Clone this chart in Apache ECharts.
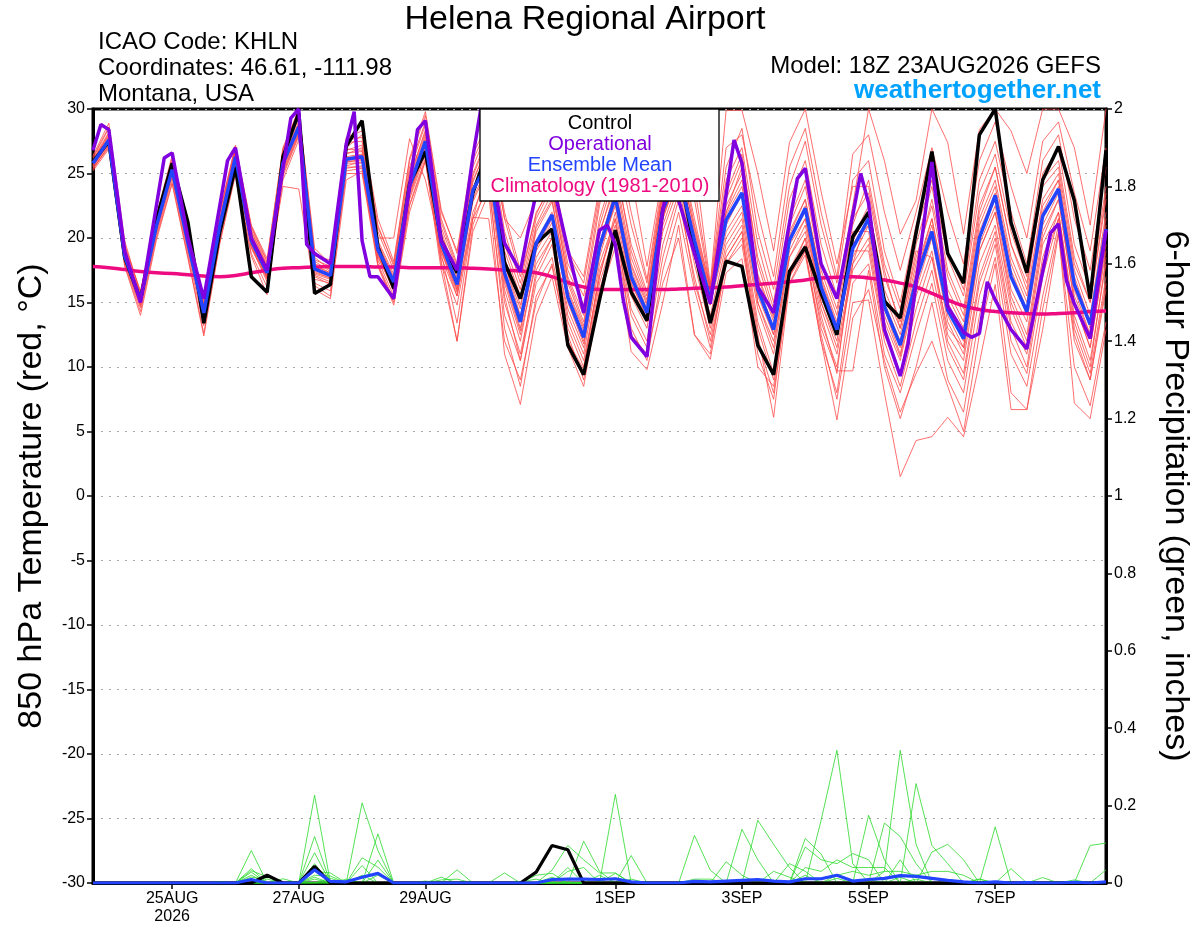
<!DOCTYPE html>
<html>
<head>
<meta charset="utf-8">
<title>Helena Regional Airport - GEFS 850 hPa Temperature</title>
<script src="https://cdn.jsdelivr.net/npm/echarts@6/dist/echarts.min.js"></script>
<style>
  html, body { margin: 0; padding: 0; background: #fff; }
  #chart { width: 1200px; height: 927px; }
</style>
</head>
<body>
<div id="chart"></div>
<script>
// ---------- DATA (6-hourly from 18Z 23AUG2026, index i -> hour 6*i) ----------
const xTickHours = [30, 78, 126, 198, 246, 294, 342];
const xTickLabels = ['25AUG\n2026', '27AUG', '29AUG', '1SEP', '3SEP', '5SEP', '7SEP'];

const tempControl = [25.9,27.5,18.5,15.2,21.4, 25.8,21.2,13.4,20.4, 25.5,17.0,15.8,26.3, 29.7,15.7,16.4,27.1, 29.1,19.3,16.1,24.2, 26.7,19.8,17.3,23.5, 27.0,18.1,15.3,19.6, 20.7,11.7,9.4,15.2, 20.6,15.8,13.6,22.2, 25.5,19.1,13.4,18.2, 17.8,11.7,9.4,17.4, 19.3,15.7,12.5,20.1, 22.0,15.1,13.8,20.4, 26.7,18.8,16.5,28.0, 30.0,21.2,17.3,24.5, 27.1,22.9,15.3,26.8];

const tempMean = [25.8,27.6,18.6,15.2,20.9, 25.3,19.6,14.2,20.9, 26.3,19.8,17.3,25.8, 28.6,17.6,17.1,26.1, 26.3,19.1,16.6,24.0, 27.5,19.6,16.4,23.7, 26.0,17.3,13.5,19.6, 21.8,15.4,12.3,19.3, 23.2,17.0,14.2,22.2, 25.0,19.8,15.2,21.4, 23.5,16.0,12.9,19.8, 22.3,16.2,12.9,19.2, 21.5,14.7,11.7,16.7, 20.5,14.4,12.2,20.0, 23.3,17.0,14.3,21.7, 23.8,16.4,13.3,20.7];

const tempClimatology = [17.8,17.7,17.55,17.4,17.3, 17.25,17.15,17.05,17.0, 17.1,17.3,17.5,17.65, 17.7,17.75,17.8,17.8, 17.8,17.75,17.75,17.7, 17.7,17.7,17.7,17.65, 17.6,17.5,17.45,17.3, 17.0,16.55,16.2,16.0, 16.0,16.0,16.0,16.0, 16.05,16.1,16.15,16.2, 16.3,16.4,16.5,16.6, 16.75,16.9,16.95,17.0, 16.9,16.75,16.5,16.2, 15.7,15.2,14.75,14.45, 14.3,14.2,14.15,14.1, 14.15,14.2,14.3,14.35];

// operational run, 3-hourly: [hour, value]
const tempOperational = [[0,26.8],[3,28.8],[6,28.4],[12,19.0],[18,15.0],[27,26.2],[30,26.6],[36,20.0],[42,15.3],[51,26.0],[54,27.0],[60,20.0],[66,17.5],[75,29.3],[78,30.0],[81,19.5],[84,18.8],[90,18.0],[96,27.3],[99,29.8],[102,19.8],[105,17.0],[108,17.0],[114,15.3],[123,28.4],[126,29.1],[132,19.8],[138,17.5],[144,26.3],[147,30.0],[156,19.6],[162,17.4],[165,20.6],[168,23.5],[174,24.5],[180,19.1],[186,14.2],[192,20.6],[195,21.0],[198,19.5],[201,15.2],[204,12.3],[210,10.8],[216,22.2],[219,25.0],[228,18.8],[234,14.9],[243,27.6],[246,25.8],[252,16.2],[258,14.2],[267,24.6],[270,25.4],[276,18.0],[282,15.3],[291,25.0],[294,22.7],[300,12.9],[306,9.3],[309,11.8],[318,25.9],[324,14.7],[330,12.7],[333,12.3],[336,12.6],[339,16.6],[342,15.2],[348,12.9],[354,11.4],[363,20.4],[366,21.1],[369,16.7],[372,14.9],[378,12.2],[384,20.6]];

const tempM01 = [26.2,28.5,19.5,15.8,21.5,26.0,20.5,14.8,21.8,27.0,20.5,17.8,26.5,29.5,18.5,17.5,27.0, 28.0,21.0,17.8,25.5,29.0,21.5,18.0,25.5,28.5,21.5,20.0,23.0,25.0,18.8,16.5,23.5, 27.0,21.0,16.5,24.0,28.0,23.0,16.0,25.5,28.5,20.5,16.0,24.0,27.5,21.0,16.5,24.5, 26.0,19.0,15.0,21.0,25.0,19.0,16.0,24.5,27.5,22.0,18.0,26.0,28.0,21.5,17.5,25.5];
const tempM02 = [25.4,27.0,18.0,14.6,20.2,24.6,18.8,13.2,20.0,25.6,19.2,16.8,25.0,28.0,16.8,16.5,25.5, 25.5,18.0,15.2,22.5,26.0,18.0,14.8,21.5,24.0,14.0,10.5,16.5,18.5,12.5,9.0,16.0, 20.0,13.0,10.5,17.5,22.0,16.0,11.5,18.0,19.5,12.0,8.0,16.5,19.0,12.5,7.5,15.0, 15.2,8.0,1.5,4.3,4.6,6.1,4.6,10.3,16.4,6.7,6.7,12.9,20.3,10.0,7.0,13.5];
const tempM03 = [25.9,27.8,18.9,15.4,21.2,25.6,19.9,14.5,21.3,26.6,20.1,17.6,26.2,29.0,17.9,17.3,26.5, 27.0,19.8,17.2,24.8,28.2,20.5,17.0,24.3,27.5,18.5,14.8,20.5,22.8,16.5,13.2,20.3, 24.5,18.0,15.0,23.0,26.5,20.5,15.8,22.5,25.0,17.0,13.5,20.5,23.0,17.0,13.5,20.0, 22.5,16.0,13.0,18.5,22.5,16.0,13.5,21.5,24.5,18.5,15.5,23.0,25.0,17.5,14.0,22.0];
const tempM04 = [25.6,27.3,18.3,14.9,20.6,25.0,19.3,13.8,20.5,26.0,19.5,17.0,25.4,28.3,17.2,16.8,25.8, 25.8,18.5,16.0,23.2,26.8,19.0,15.8,22.8,25.5,16.0,12.0,18.5,20.5,14.0,11.0,18.0, 21.5,15.5,13.0,21.0,24.5,18.5,14.0,19.5,21.5,14.5,11.0,18.5,20.5,14.5,11.0,17.5, 19.5,12.5,9.5,15.5,19.0,12.5,10.5,18.0,21.0,14.5,11.5,19.5,22.0,13.5,10.0,18.5];
const tempM05 = [26.4,28.9,19.8,15.6,21.0,25.8,20.2,14.9,21.5,26.8,20.9,18.2,26.8,29.8,18.8,17.9,27.4, 27.5,20.5,17.5,25.2,28.8,21.2,17.8,25.0,28.0,20.5,16.5,22.0,24.0,17.5,14.8,22.5, 29.5,24.9,17.8,25.0,28.5,26.0,16.4,29.9,29.9,25.0,19.0,27.4,30.0,23.6,18.0,24.0, 24.0,17.5,13.0,19.0,18.5,13.0,11.5,19.0,22.0,15.0,12.0,20.0,23.0,15.0,11.5,19.0];
const tempM06 = [25.3,27.2,17.9,14.3,20.0,24.3,18.5,12.6,19.6,25.1,18.8,16.2,24.5,27.6,16.5,15.9,25.0, 25.0,17.8,14.8,22.0,26.0,17.5,12.0,20.5,23.5,11.0,7.1,14.0,17.0,11.5,8.5,15.5, 19.3,11.2,9.8,15.0,21.0,12.5,10.6,17.3,18.4,10.0,8.5,17.0,19.5,13.5,10.0,18.0, 22.0,15.5,12.5,18.0,23.0,17.0,14.0,22.0,25.5,19.5,16.0,24.5,26.0,18.5,15.0,23.5];
const tempM07 = [26.0,28.1,19.2,15.5,21.6,26.2,20.8,15.2,22.0,27.2,21.0,18.4,27.0,29.9,19.2,18.0,27.6, 27.8,20.8,18.0,26.0,29.5,22.0,19.0,26.5,29.0,22.0,17.5,23.5,25.5,19.0,17.0,24.0, 26.0,19.0,15.5,23.5,27.0,21.5,16.0,24.5,27.0,19.5,15.0,23.0,26.0,19.5,15.5,22.5, 30.0,26.0,20.3,22.9,30.0,27.4,20.3,28.4,30.0,28.3,25.0,30.0,30.0,27.0,21.0,30.0];
const tempM08 = [25.5,27.4,18.4,15.0,20.7,25.1,19.4,14.0,20.7,25.9,19.4,16.9,24.0,23.8,16.0,15.3,24.5, 25.2,18.3,15.5,23.0,26.5,18.5,15.5,22.0,25.0,15.0,11.0,17.0,19.5,13.0,10.0,17.0, 22.0,16.0,13.5,20.5,24.0,18.0,13.0,19.0,21.0,13.5,9.5,17.5,20.0,13.0,9.7,9.7, 17.5,10.0,6.0,10.0,15.0,9.0,6.5,14.0,18.5,11.0,8.5,15.5,21.0,12.5,9.0,16.0];
const tempM09 = [25.7,27.5,18.7,15.3,21.0,25.4,19.7,14.4,21.0,26.4,19.9,17.4,25.9,28.8,17.7,17.2,26.3, 26.5,19.3,16.8,24.2,27.8,19.8,16.8,23.8,26.8,17.5,13.8,19.8,22.0,15.8,12.8,19.6, 23.5,17.5,14.5,22.5,25.5,20.0,15.5,21.8,24.0,16.5,13.0,20.0,22.5,16.5,13.0,19.5, 21.0,14.5,11.5,17.0,21.5,15.0,12.5,20.5,23.5,17.5,14.5,22.0,24.5,16.5,13.0,21.0];
const tempM10 = [26.1,28.2,19.0,15.1,20.8,25.5,19.8,14.1,20.8,26.2,19.7,17.1,25.6,28.5,18.3,17.8,26.8, 27.2,20.0,20.0,27.7,24.5,19.0,15.5,21.5,26.0,18.0,14.5,20.8,23.0,16.0,13.0,20.5, 24.0,16.5,13.8,21.5,25.0,19.0,14.8,22.0,25.5,15.0,11.5,19.0,21.5,15.0,12.0,20.5, 20.5,13.5,10.5,16.0,20.0,13.5,11.0,19.0,22.0,15.5,12.5,20.5,23.0,15.0,11.5,19.5];
const tempM11 = [25.9,27.9,18.8,15.7,21.3,25.9,20.3,14.6,21.4,26.9,20.6,17.9,26.4,29.3,18.2,17.4,26.9, 26.8,19.5,16.9,24.5,28.0,20.2,17.3,24.5,27.2,19.0,15.5,21.0,23.5,17.0,14.0,21.5, 25.5,19.5,15.8,23.8,27.0,21.0,16.2,23.0,26.0,18.5,14.5,21.5,24.5,18.0,14.5,21.5, 23.5,17.0,13.5,19.5,24.0,17.5,14.5,22.5,25.5,19.5,16.5,24.0,25.5,18.0,15.0,23.0];
const tempM12 = [25.4,27.1,18.2,14.7,20.4,24.8,19.1,13.6,20.3,25.7,19.3,16.6,25.1,28.1,17.0,16.4,25.4, 25.6,18.8,15.8,23.4,26.9,18.8,13.4,21.6,21.5,12.0,9.0,15.0,18.0,12.0,9.5,16.5, 20.5,14.0,11.5,18.5,23.0,17.0,12.0,18.0,20.0,12.5,6.1,16.4,18.7,12.0,5.9,13.8, 16.0,10.5,6.5,9.5,12.0,8.5,5.0,12.5,18.0,8.0,6.7,14.5,20.5,7.2,6.0,12.9];
const tempM13 = [25.8,27.7,18.6,15.2,20.9,25.2,19.5,14.3,20.9,26.3,20.0,17.5,25.7,28.7,17.5,17.0,26.0, 26.2,19.0,16.4,23.9,27.4,19.4,16.2,23.4,26.3,17.0,13.0,19.2,21.5,15.2,12.0,19.0, 22.5,16.5,14.0,21.5,25.0,19.5,15.0,20.5,22.5,15.5,12.5,19.5,21.5,15.5,12.5,18.5, 21.0,14.0,10.8,16.5,20.5,14.0,11.5,19.5,22.5,16.0,13.5,21.0,23.5,15.5,12.5,20.0];
const tempM14 = [26.3,28.6,19.4,15.9,21.7,26.4,20.7,15.0,21.9,27.1,20.8,18.1,26.9,30.0,18.6,18.3,27.8, 28.3,21.5,18.2,26.2,29.8,22.2,18.8,26.0,28.8,21.5,17.0,21.8,24.5,18.0,15.5,23.0, 28.0,22.0,16.8,24.5,27.5,24.0,16.2,27.0,28.0,22.0,17.0,25.5,28.5,22.0,17.0,26.5, 28.0,22.0,17.5,22.0,27.0,22.0,18.0,26.0,29.0,24.0,20.0,27.5,29.0,23.5,19.0,27.0];
const tempM15 = [25.2,26.9,17.8,14.0,19.8,24.2,18.4,12.4,19.5,24.9,18.6,15.6,24.8,27.9,16.3,15.5,25.2, 25.4,17.9,15.0,22.6,26.2,18.2,12.0,21.0,24.5,13.0,8.5,15.5,17.8,12.0,9.8,17.5, 21.0,14.5,12.0,19.5,23.5,16.5,12.5,18.5,20.5,13.0,9.0,17.0,19.0,12.0,8.0,16.5, 18.0,11.0,8.0,12.5,16.5,10.5,8.0,15.5,19.5,12.0,9.5,17.0,21.5,12.0,9.0,16.5];
const tempM16 = [25.6,27.5,18.5,15.0,20.8,25.3,19.6,14.2,20.7,26.1,19.6,17.2,25.5,28.4,17.4,16.9,25.9, 26.0,18.9,16.6,23.6,27.2,19.6,16.6,23.6,26.5,16.5,12.5,18.0,20.0,14.5,11.5,18.5, 22.8,16.2,13.5,21.8,24.8,19.0,14.8,20.0,22.0,15.0,12.0,18.5,21.0,15.0,11.5,18.0, 20.0,13.0,9.5,14.5,18.5,12.0,9.5,17.0,20.5,13.5,11.0,18.5,22.0,14.0,10.5,18.0];
const tempM17 = [26.0,28.0,19.1,15.3,21.1,25.7,20.0,14.7,21.2,26.7,20.3,17.7,26.1,28.9,18.0,17.6,26.6, 26.7,19.6,17.0,24.6,28.4,20.8,17.6,24.8,27.8,19.5,16.0,21.5,24.0,16.8,13.5,21.0, 25.0,18.5,15.2,23.5,26.0,20.8,15.8,23.5,26.5,18.0,14.0,21.0,24.0,17.5,14.0,21.0, 24.5,18.0,14.5,20.5,24.5,18.5,15.5,23.5,26.5,20.5,17.0,25.0,27.0,19.5,16.0,24.0];
const tempM18 = [25.5,27.3,18.2,14.8,20.5,24.9,19.2,13.9,20.4,25.8,19.4,16.9,25.3,28.2,17.1,16.6,25.6, 25.9,18.7,16.2,23.5,27.0,19.1,16.0,23.0,25.8,15.5,10.5,17.5,20.0,13.5,10.5,17.0, 21.5,12.5,11.0,16.5,20.0,12.5,11.0,18.5,20.5,11.0,7.5,17.0,20.0,14.0,9.5,19.0, 19.0,12.0,8.5,13.5,17.5,11.5,9.0,16.5,20.0,13.0,10.0,18.0,21.5,13.0,9.5,17.0];
const tempM19 = [25.9,27.6,18.7,15.4,21.0,25.4,19.9,14.4,21.1,26.5,20.2,17.6,25.9,28.6,17.8,17.3,26.2, 26.4,19.2,16.7,24.0,27.6,19.7,16.5,23.6,26.6,18.0,14.0,19.5,21.8,15.5,12.5,19.5, 23.8,17.8,14.8,22.8,25.8,20.2,15.6,22.0,24.5,17.2,13.8,20.2,23.0,16.8,13.2,19.8, 22.0,15.0,12.0,17.5,21.5,15.5,13.0,21.0,24.0,18.0,15.0,22.5,24.5,17.0,13.5,21.5];
const tempM20 = [25.7,27.4,18.5,15.1,20.7,25.1,19.4,14.1,20.6,26.0,19.6,17.0,25.5,28.4,17.3,16.9,25.9, 26.1,18.6,16.0,23.7,27.2,19.3,16.0,23.4,26.2,16.8,12.8,19.0,21.2,15.0,11.8,19.0, 23.0,17.0,14.2,22.0,25.0,19.5,15.2,21.0,23.5,16.0,12.5,19.8,22.0,16.0,12.8,19.5, 21.5,14.5,11.0,17.0,21.0,14.5,12.0,20.0,23.0,17.0,14.0,21.5,24.0,16.0,12.5,20.5];

// 6-hour precipitation (inches): [index, value]; all other 6-hour steps are 0
const precipControl = [[11,0.02],[14,0.043],[28,0.028],[29,0.097],[30,0.086]];
const precipMean = [[10,0.009],[14,0.034],[15,0.004],[16,0.003],[17,0.015],[18,0.025],[29,0.009],[30,0.01],[31,0.01],[32,0.009],[33,0.011],[34,0.003],[38,0.004],[39,0.003],[40,0.005],[41,0.007],[42,0.009],[43,0.005],[44,0.003],[45,0.011],[46,0.011],[47,0.02],[48,0.005],[49,0.009],[50,0.012],[51,0.019],[52,0.017],[53,0.012],[54,0.007],[55,0.003],[57,0.003],[59,0.001],[62,0.002],[64,0.003]];
const precipG01 = [[10,0.084],[14,0.227],[17,0.02],[30,0.04],[33,0.229],[46,0.162],[47,0.343],[48,0.05],[51,0.06],[57,0.145]];
const precipG02 = [[10,0.037],[14,0.12],[18,0.127],[31,0.108],[32,0.03],[38,0.123],[39,0.033],[50,0.03],[51,0.343],[52,0.1]];
const precipG03 = [[10,0.032],[11,0.016],[14,0.078],[17,0.207],[18,0.084],[29,0.033],[30,0.097],[31,0.06],[32,0.026],[33,0.026],[41,0.139],[42,0.06],[52,0.257],[53,0.097],[54,0.05]];
const precipG04 = [[10,0.028],[14,0.05],[18,0.059],[23,0.034],[34,0.071],[42,0.162],[43,0.1],[44,0.04],[49,0.175],[50,0.06]];
const precipG05 = [[10,0.02],[14,0.035],[17,0.065],[18,0.041],[22,0.015],[26,0.026],[45,0.115],[46,0.075],[50,0.155],[51,0.12],[52,0.05]];
const precipG06 = [[10,0.015],[11,0.01],[14,0.03],[15,0.026],[28,0.02],[29,0.025],[45,0.093],[46,0.06],[47,0.05],[48,0.076],[49,0.06],[63,0.097],[64,0.103]];
const precipG07 = [[12,0.011],[14,0.02],[15,0.018],[17,0.045],[30,0.03],[31,0.04],[43,0.03],[44,0.015],[53,0.08],[54,0.1],[55,0.06]];
const precipG08 = [[14,0.015],[16,0.01],[29,0.015],[33,0.025],[40,0.055],[41,0.02],[45,0.04],[46,0.03],[47,0.06],[48,0.04],[49,0.04],[50,0.04],[64,0.034]];
const precipG09 = [[11,0.02],[15,0.012],[18,0.02],[22,0.008],[23,0.01],[47,0.02],[48,0.03],[49,0.02],[50,0.03],[51,0.03],[52,0.02],[53,0.03],[54,0.03],[55,0.02]];
const precipG10 = [[8,0.004],[16,0.006],[21,0.005],[32,0.02],[34,0.01],[38,0.01],[39,0.01],[58,0.037],[60,0.014],[62,0.008]];
const precipG11 = [[14,0.01],[35,0.003],[44,0.05],[45,0.03],[61,0.003]];
const precipG12 = [[27,0.003],[28,0.01],[56,0.01]];
const precipG13 = [[47,0.012],[51,0.015],[56,0.01]];
const precipG14 = [[45,0.02],[49,0.01],[52,0.01]];

// ---------- BUILD ----------
const FONT = "'Liberation Sans', Arial, Helvetica, sans-serif";
const N = tempMean.length; // 65 steps
const toPairs = arr => arr.map((v, i) => [6 * i, v]);
const sparseToPairs = list => {
  const a = new Array(N).fill(0);
  list.forEach(([i, v]) => { a[i] = v; });
  return toPairs(a);
};

const tempMembers = [tempM01,tempM02,tempM03,tempM04,tempM05,tempM06,tempM07,tempM08,tempM09,tempM10,
                     tempM11,tempM12,tempM13,tempM14,tempM15,tempM16,tempM17,tempM18,tempM19,tempM20];
const precipMembers = [precipG01,precipG02,precipG03,precipG04,precipG05,precipG06,precipG07,
                       precipG08,precipG09,precipG10,precipG11,precipG12,precipG13,precipG14];

const series = [];
tempMembers.forEach((arr, k) => series.push({
  name: 'Member ' + (k + 1), type: 'line', yAxisIndex: 0, data: toPairs(arr),
  symbol: 'none', silent: true, lineStyle: { width: 0.8, color: '#ff4a4a' }
}));
precipMembers.forEach((list, k) => series.push({
  name: 'Precip member ' + (k + 1), type: 'line', yAxisIndex: 1, data: sparseToPairs(list),
  symbol: 'none', silent: true, lineStyle: { width: 0.8, color: '#2bd92b' }
}));
series.push({ name: 'Climatology (1981-2010)', type: 'line', yAxisIndex: 0, data: toPairs(tempClimatology),
  symbol: 'none', smooth: true, lineStyle: { width: 3.5, color: '#ee0a80' }, itemStyle: { color: '#ee0a80' } });
series.push({ name: 'Precip control', type: 'line', yAxisIndex: 1, data: sparseToPairs(precipControl),
  symbol: 'none', lineStyle: { width: 3.2, color: '#000' } });
series.push({ name: 'Precip mean', type: 'line', yAxisIndex: 1, data: sparseToPairs(precipMean),
  symbol: 'none', lineStyle: { width: 3.2, color: '#2244ff' } });
series.push({ name: 'Control', type: 'line', yAxisIndex: 0, data: toPairs(tempControl),
  symbol: 'none', lineStyle: { width: 3.5, color: '#000' }, itemStyle: { color: '#000' } });
series.push({ name: 'Ensemble Mean', type: 'line', yAxisIndex: 0, data: toPairs(tempMean),
  symbol: 'none', lineStyle: { width: 3.5, color: '#2244ff' }, itemStyle: { color: '#2244ff' } });
series.push({ name: 'Operational', type: 'line', yAxisIndex: 0, data: tempOperational,
  symbol: 'none', lineStyle: { width: 3.5, color: '#8000e0' }, itemStyle: { color: '#8000e0' } });

const legendKeys = { 'Control': 'c', 'Operational': 'o', 'Ensemble Mean': 'm', 'Climatology (1981-2010)': 'k' };
const legendTok = color => ({ color: color, width: 226, align: 'center', fontSize: 20, lineHeight: 21.5, fontFamily: FONT });

const option = {
  animation: false,
  backgroundColor: '#fff',
  textStyle: { fontFamily: FONT },
  title: [
    { text: 'Helena Regional Airport', left: 585, top: 3, textAlign: 'center', padding: 0,
      textStyle: { fontSize: 34, fontWeight: 'normal', color: '#000', fontFamily: FONT } },
    { text: 'ICAO Code: KHLN\nCoordinates: 46.61, -111.98\nMontana, USA', left: 98, top: 29, padding: 0,
      textStyle: { fontSize: 24, lineHeight: 26, fontWeight: 'normal', color: '#000', fontFamily: FONT } },
    { text: 'Model: 18Z 23AUG2026 GEFS', right: 99, top: 53, padding: 0,
      textStyle: { fontSize: 24, lineHeight: 26, fontWeight: 'normal', color: '#000', fontFamily: FONT } },
    { text: 'weathertogether.net', right: 99, top: 78, padding: 0,
      textStyle: { fontSize: 26, lineHeight: 26, fontWeight: 'bold', color: '#00a2ff', fontFamily: FONT } }
  ],
  legend: {
    orient: 'vertical', left: 480, top: 109,
    icon: 'none', itemWidth: 0, itemHeight: 10, itemGap: 1,
    padding: [4, 6, 5, 2],
    backgroundColor: '#fff', borderColor: '#000', borderWidth: 1.3,
    selectedMode: false,
    data: ['Control', 'Operational', 'Ensemble Mean', 'Climatology (1981-2010)'],
    formatter: name => '{' + legendKeys[name] + '|' + name + '}',
    textStyle: { rich: {
      c: legendTok('#000'), o: legendTok('#8000e0'), m: legendTok('#2244ff'), k: legendTok('#ee0a80')
    } }
  },
  grid: { left: 93, right: 92, top: 109, bottom: 44, show: true, borderColor: '#000', borderWidth: 3, backgroundColor: 'transparent' },
  xAxis: {
    type: 'value', min: 0, max: 384,
    axisLine: { show: true, onZero: false, lineStyle: { color: '#000', width: 3 } },
    axisTick: { show: true, customValues: xTickHours, length: 6, lineStyle: { color: '#000', width: 1.5 } },
    axisLabel: { show: true, customValues: xTickHours, color: '#000', fontSize: 16, lineHeight: 18, margin: 7,
      fontFamily: FONT, formatter: v => xTickLabels[xTickHours.indexOf(v)] || '' },
    splitLine: { show: false }
  },
  yAxis: [
    { type: 'value', min: -30, max: 30, interval: 5, position: 'left',
      name: '850 hPa Temperature (red, \u00B0C)', nameLocation: 'middle', nameGap: 44,
      nameTextStyle: { fontSize: 34, color: '#000', fontFamily: FONT },
      axisLine: { show: true, onZero: false, lineStyle: { color: '#000', width: 3 } },
      axisTick: { show: true, length: 6, lineStyle: { color: '#000', width: 1.5 } },
      axisLabel: { color: '#000', fontSize: 16, margin: 8, fontFamily: FONT },
      splitLine: { show: true, lineStyle: { color: '#a8a8a8', width: 1.2, type: [2, 6] } } },
    { type: 'value', min: 0, max: 2, interval: 0.2, position: 'right',
      name: '6-hour Precipitation (green, inches)', nameLocation: 'middle', nameGap: 52, nameRotate: -90,
      nameTextStyle: { fontSize: 34, color: '#000', fontFamily: FONT },
      axisLine: { show: true, onZero: false, lineStyle: { color: '#000', width: 3 } },
      axisTick: { show: true, length: 6, lineStyle: { color: '#000', width: 1.5 } },
      axisLabel: { color: '#000', fontSize: 16, margin: 8, fontFamily: FONT },
      splitLine: { show: false } }
  ],
  series: series
};

const chart = echarts.init(document.getElementById('chart'), null, { renderer: 'canvas' });
chart.setOption(option);
</script>
</body>
</html>
